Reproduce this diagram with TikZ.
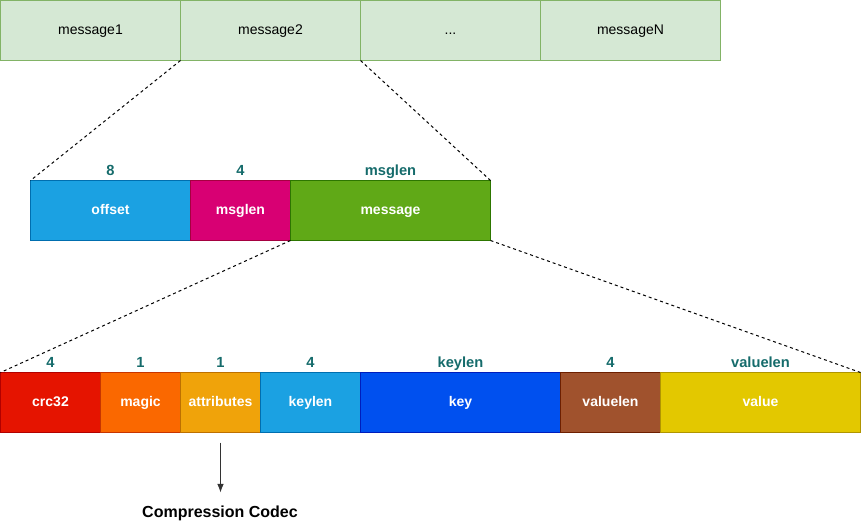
\documentclass[tikz,border=0pt]{standalone}
\usepackage{fontspec}
\setmainfont{Liberation Sans}
\usetikzlibrary{positioning,arrows.meta}
\definecolor{msgfill}{HTML}{D5E8D4}
\definecolor{msgline}{HTML}{82B366}
\definecolor{sizetext}{HTML}{156B6B}
\definecolor{cblue}{HTML}{1BA1E2}\definecolor{lblue}{HTML}{006EAF}
\definecolor{cpink}{HTML}{D80073}\definecolor{lpink}{HTML}{A50040}
\definecolor{cgreen}{HTML}{60A917}\definecolor{lgreen}{HTML}{2D7600}
\definecolor{cred}{HTML}{E51400}\definecolor{lred}{HTML}{B20000}
\definecolor{corange}{HTML}{FA6800}\definecolor{lorange}{HTML}{C73500}
\definecolor{camber}{HTML}{F0A30A}\definecolor{lamber}{HTML}{BD7000}
\definecolor{ccobalt}{HTML}{0050EF}\definecolor{lcobalt}{HTML}{001DBC}
\definecolor{cbrown}{HTML}{A0522D}\definecolor{lbrown}{HTML}{6D1F00}
\definecolor{cyellow}{HTML}{E3C800}\definecolor{lyellow}{HTML}{B09500}
\newcommand\boxfont{\fontsize{10.5}{12}\selectfont}
\begin{document}
\begin{tikzpicture}[>={Latex[length=6.5pt,width=5pt]},x=0.75pt,y=-0.75pt,
    every node/.style={outer sep=0pt,inner sep=0pt},
    msg/.style={draw=msgline,fill=msgfill,line width=0.75pt,minimum height=45pt,minimum width=135pt,
        font=\boxfont,text height=7.5pt,text depth=2pt},
    fld/.style 2 args={draw=#2,fill=#1,line width=0.75pt,minimum height=45pt,text=white,
        font=\boxfont\bfseries,text height=7.5pt,text depth=2pt},
    size/.style={label={[text=sizetext,font=\fontsize{11}{13}\selectfont\bfseries,
        text height=8pt,text depth=2.5pt,inner sep=1pt]above:#1}},
    zoom/.style={line width=0.75pt,dash pattern=on 2.25pt off 2.25pt}]
    \useasboundingbox(0,0)rectangle(862,523);
    % messages in the set
    \node[msg,anchor=north west](m1)at(0.5,0.5){message1};
    \node[msg,right=0pt of m1](m2){message2};
    \node[msg,right=0pt of m2](m3){...};
    \node[msg,right=0pt of m3](mn){messageN};
    % one message: offset, size, body
    \node[fld={cblue}{lblue},minimum width=120pt,anchor=north west,size=8](off)at(30.5,180.5){offset};
    \node[fld={cpink}{lpink},minimum width=75pt,right=0pt of off,size=4](len){msglen};
    \node[fld={cgreen}{lgreen},minimum width=150pt,right=0pt of len,size=msglen](body){message};
    % the message body
    \node[fld={cred}{lred},minimum width=75pt,anchor=north west,size=4](crc)at(0.5,372.5){crc32};
    \node[fld={corange}{lorange},minimum width=60pt,right=0pt of crc,size=1](magic){magic};
    \node[fld={camber}{lamber},minimum width=60pt,right=0pt of magic,size=1](attr){attributes};
    \node[fld={cblue}{lblue},minimum width=75pt,right=0pt of attr,size=4](klen){keylen};
    \node[fld={ccobalt}{lcobalt},minimum width=150pt,right=0pt of klen,size=keylen](key){key};
    \node[fld={cbrown}{lbrown},minimum width=75pt,right=0pt of key,size=4](vlen){valuelen};
    \node[fld={cyellow}{lyellow},minimum width=150pt,right=0pt of vlen,size=valuelen](val){value};
    \node[font=\fontsize{12}{14}\selectfont\bfseries,inner sep=2pt](codec)at(220,513){Compression Codec};
    % zoom lines
    \draw[zoom](m2.south west)--(off.north west)(m2.south east)--(body.north east);
    \draw[zoom](body.south west)--(crc.north west)(body.south east)--(val.north east);
    \draw[->,line width=0.75pt,draw=black!80]([yshift=-7.5pt]attr.south)--([yshift=-45pt]attr.south);
\end{tikzpicture}
\end{document}
